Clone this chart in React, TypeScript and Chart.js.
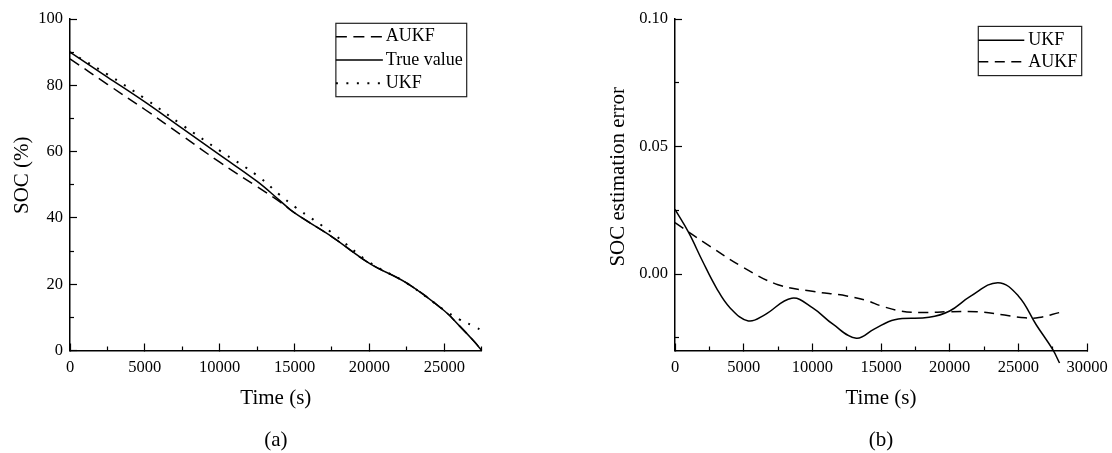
import React, { useEffect, useRef } from 'react';
import { Chart, registerables } from 'chart.js';

Chart.register(...registerables);

const FONT = "'Liberation Serif', 'Times New Roman', Times, serif";

// ---------- Chart (a): SOC ----------
const timeA = [0, 2500, 5000, 7500, 10000, 12500, 14000, 15000, 17500, 20000, 22500, 25000, 26000, 27000, 27500];
const aukfA = [88, 80.3, 72.7, 64.8, 56.8, 49.4, 44.9, 41.5, 34.3, 26.3, 20.3, 12, 7.5, 2.7, 0];
const trueA = [90, 82.5, 75, 67, 59, 51, 45.3, 41.5, 34.3, 26.3, 20.3, 12, 7.5, 2.7, 0];
const ukfA = [90, 83.3, 76, 68, 60.3, 52.8, 47, 43.4, 35.5, 26.6, 20.3, 12.2, 9.4, 7.3, 6];

const xTicksA = [0, 5000, 10000, 15000, 20000, 25000];
const xMinorA = [2500, 7500, 12500, 17500, 22500, 27500];
const yTicksA = [0, 20, 40, 60, 80, 100];
const yMinorA = [10, 30, 50, 70, 90];

// ---------- Chart (b): SOC estimation error ----------
const ukfTimeB = [0, 1000, 2000, 3000, 4000, 5340, 6500, 8500, 10000, 11500, 13200, 14500, 16000, 18500, 20000, 21500, 23500, 25000, 26300, 27500, 28000];
const ukfB = [0.0253, 0.0162, 0.0051, -0.0053, -0.0132, -0.0184, -0.0161, -0.0095, -0.0132, -0.0197, -0.0252, -0.0216, -0.0179, -0.0170, -0.0145, -0.0088, -0.0034, -0.0086, -0.0199, -0.0296, -0.0349];
const aukfTimeB = [0, 2500, 5000, 7500, 10000, 12500, 14000, 15000, 16500, 18000, 20000, 22000, 24000, 25500, 26500, 28000];
const aukfB = [0.0201, 0.011, 0.0025, -0.0042, -0.0068, -0.0086, -0.0105, -0.0125, -0.0146, -0.0151, -0.0148, -0.0148, -0.0161, -0.0172, -0.0171, -0.0151];

const xTicksB = [0, 5000, 10000, 15000, 20000, 25000, 30000];
const xMinorB = [2500, 7500, 12500, 17500, 22500, 27500];
const yTicksB = [0, 0.05, 0.1];
const yMinorB = [-0.025, 0.025, 0.075];

const pts = (xs: number[], ys: number[]) => xs.map((x, i) => ({ x, y: ys[i] }));

type LegendCfg = {
  rightInset: number;
  topInset: number;
  row: number;
  extra: number;
  sample: number;
  gap: number;
  padRight: number;
  fontSize: number;
};

const boxLegend = (cfg: LegendCfg) => ({
  id: 'boxLegend',
  afterDraw(chart: any) {
    const { ctx, chartArea } = chart;
    const ds = chart.data.datasets;
    ctx.save();
    ctx.font = `${cfg.fontSize}px ${FONT}`;
    const textW = Math.max(...ds.map((d: any) => ctx.measureText(d.label).width));
    const w = cfg.sample + cfg.gap + textW + cfg.padRight;
    const h = ds.length * cfg.row + cfg.extra;
    const right = chartArea.right - cfg.rightInset;
    const left = right - w;
    const top = chartArea.top + cfg.topInset;
    ctx.fillStyle = '#fff';
    ctx.fillRect(left, top, w, h);
    ctx.strokeStyle = '#222';
    ctx.lineWidth = 1.2;
    ctx.setLineDash([]);
    ctx.strokeRect(left, top, w, h);
    ds.forEach((d: any, i: number) => {
      const y = top + cfg.extra / 2 + cfg.row * (i + 0.5);
      ctx.save();
      ctx.strokeStyle = d.borderColor;
      ctx.lineWidth = d.borderWidth;
      ctx.setLineDash(d.borderDash || []);
      ctx.beginPath();
      ctx.moveTo(left, y);
      ctx.lineTo(left + cfg.sample, y);
      ctx.stroke();
      ctx.restore();
      ctx.fillStyle = '#000';
      ctx.textBaseline = 'middle';
      ctx.textAlign = 'left';
      ctx.fillText(d.label, left + cfg.sample + cfg.gap, y);
    });
    ctx.restore();
  },
});

type ChartCfg = {
  canvas: HTMLCanvasElement;
  datasets: any[];
  xMin: number;
  xMax: number;
  yMin: number;
  yMax: number;
  xTicks: number[];
  xMinor: number[];
  yTicks: number[];
  yMinor: number[];
  yFmt: (v: number) => string;
  yTitle: string;
  yTitlePad: number;
  yTitleShift: number;
  yAxisWidth: number;
  padRight: number;
  panel: string;
  legend: LegendCfg;
};

const tickFont = { family: FONT, size: 16.5, weight: 'normal' };
const titleFont = { family: FONT, size: 21, lineHeight: 1.2, weight: 'normal' };

function makeChart(c: ChartCfg) {
  const majorGrid = (len: number) => ({
    display: true,
    drawOnChartArea: false,
    drawTicks: true,
    tickLength: len,
    tickWidth: 1.2,
    tickColor: '#000',
    color: '#000',
  });
  return new Chart(c.canvas, {
    type: 'line',
    data: { datasets: c.datasets },
    options: {
      animation: false,
      responsive: false,
      events: [],
      layout: { padding: { top: 19, right: c.padRight, bottom: 0, left: 0 } },
      plugins: {
        legend: { display: false },
        tooltip: { enabled: false },
        title: {
          display: true,
          position: 'bottom',
          fullSize: false,
          text: c.panel,
          color: '#000',
          font: titleFont,
          padding: 0,
        },
      },
      scales: {
        x: {
          type: 'linear',
          axis: 'x',
          position: 'bottom',
          weight: 1,
          min: c.xMin,
          max: c.xMax,
          afterBuildTicks: (s: any) => {
            s.ticks = c.xTicks.map((v) => ({ value: v }));
          },
          afterFit: (s: any) => {
            s.height = 77.3;
            s.paddingLeft = 0;
            s.paddingRight = 0;
          },
          grid: majorGrid(-7),
          border: { display: true, color: '#000', width: 1.5 },
          ticks: {
            padding: 14,
            color: '#000',
            font: tickFont,
            maxRotation: 0,
            autoSkip: false,
            callback: (v: any) => String(v),
          },
          title: {
            display: true,
            text: 'Time (s)',
            color: '#000',
            font: titleFont,
            padding: { top: 0, bottom: 16.6 },
          },
        },
        xMinor: {
          type: 'linear',
          axis: 'x',
          position: 'bottom',
          weight: 0,
          min: c.xMin,
          max: c.xMax,
          afterBuildTicks: (s: any) => {
            s.ticks = c.xMinor.map((v) => ({ value: v }));
          },
          afterFit: (s: any) => {
            s.height = 0;
            s.paddingLeft = 0;
            s.paddingRight = 0;
          },
          grid: majorGrid(-4),
          border: { display: false },
          ticks: { display: false },
        },
        y: {
          type: 'linear',
          axis: 'y',
          position: 'left',
          weight: 1,
          min: c.yMin,
          max: c.yMax,
          afterBuildTicks: (s: any) => {
            s.ticks = c.yTicks.map((v) => ({ value: v }));
          },
          afterFit: (s: any) => {
            s.width = c.yAxisWidth;
            s.paddingTop = 0;
            s.paddingBottom = 0;
            if (!s.__shifted) {
              const orig = s.drawTitle.bind(s);
              s.drawTitle = (...args: any[]) => {
                s.ctx.save();
                s.ctx.translate(0, -c.yTitleShift);
                orig(...args);
                s.ctx.restore();
              };
              s.__shifted = true;
            }
          },
          grid: majorGrid(-7),
          border: { display: true, color: '#000', width: 1.5 },
          ticks: {
            padding: 14,
            color: '#000',
            font: tickFont,
            autoSkip: false,
            callback: (v: any) => c.yFmt(Number(v)),
          },
          title: {
            display: true,
            text: c.yTitle,
            color: '#000',
            font: titleFont,
            padding: { top: c.yTitlePad, bottom: 0 },
          },
        },
        yMinor: {
          type: 'linear',
          axis: 'y',
          position: 'left',
          weight: 0,
          min: c.yMin,
          max: c.yMax,
          afterBuildTicks: (s: any) => {
            s.ticks = c.yMinor.map((v) => ({ value: v }));
          },
          afterFit: (s: any) => {
            s.width = 0;
            s.paddingTop = 0;
            s.paddingBottom = 0;
          },
          grid: majorGrid(-4),
          border: { display: false },
          ticks: { display: false },
        },
      },
    } as any,
    plugins: [boxLegend(c.legend)],
  });
}

const line = (label: string, data: any[], dash: number[], width = 1.5) => ({
  label,
  data,
  borderColor: '#000',
  backgroundColor: '#000',
  borderWidth: width,
  borderDash: dash,
  pointRadius: 0,
  fill: false,
  tension: 0.4,
  xAxisID: 'x',
  yAxisID: 'y',
  clip: false,
});

export default function App() {
  const refA = useRef<HTMLCanvasElement>(null);
  const refB = useRef<HTMLCanvasElement>(null);

  useEffect(() => {
    if (!refA.current || !refB.current) return;
    const a = makeChart({
      canvas: refA.current,
      datasets: [
        line('AUKF', pts(timeA, aukfA), [11, 6.5]),
        line('True value', pts(timeA, trueA), []),
        line('UKF', pts(timeA, ukfA), [2, 8.5], 2),
      ],
      xMin: 0,
      xMax: 27500,
      yMin: 0,
      yMax: 100,
      xTicks: xTicksA,
      xMinor: xMinorA,
      yTicks: yTicksA,
      yMinor: yMinorA,
      yFmt: (v) => String(v),
      yTitle: 'SOC (%)',
      yTitlePad: 9.4,
      yTitleShift: 9.5,
      yAxisWidth: 70,
      padRight: 74.3,
      panel: '(a)',
      legend: { rightInset: 15, topInset: 4.3, row: 23.3, extra: 3.5, sample: 47, gap: 3, padRight: 4, fontSize: 18 },
    });
    const b = makeChart({
      canvas: refB.current,
      datasets: [
        line('UKF', pts(ukfTimeB, ukfB), []),
        line('AUKF', pts(aukfTimeB, aukfB), [10, 6.5]),
      ],
      xMin: 0,
      xMax: 30000,
      yMin: -0.03,
      yMax: 0.1,
      xTicks: xTicksB,
      xMinor: xMinorB,
      yTicks: yTicksB,
      yMinor: yMinorB,
      yFmt: (v) => v.toFixed(2),
      yTitle: 'SOC estimation error',
      yTitlePad: 49.4,
      yTitleShift: 8,
      yAxisWidth: 119,
      padRight: 25,
      panel: '(b)',
      legend: { rightInset: 5.3, topInset: 7.4, row: 21.6, extra: 6, sample: 46, gap: 4, padRight: 4.4, fontSize: 18 },
    });
    return () => {
      a.destroy();
      b.destroy();
    };
  }, []);

  return (
    <div style={{ position: 'absolute', left: 0, top: 0, width: 1112, height: 453, background: '#fff' }}>
      <canvas ref={refA} width={556} height={453} style={{ position: 'absolute', left: 0, top: 0 }} />
      <canvas ref={refB} width={556} height={453} style={{ position: 'absolute', left: 556, top: 0 }} />
    </div>
  );
}
